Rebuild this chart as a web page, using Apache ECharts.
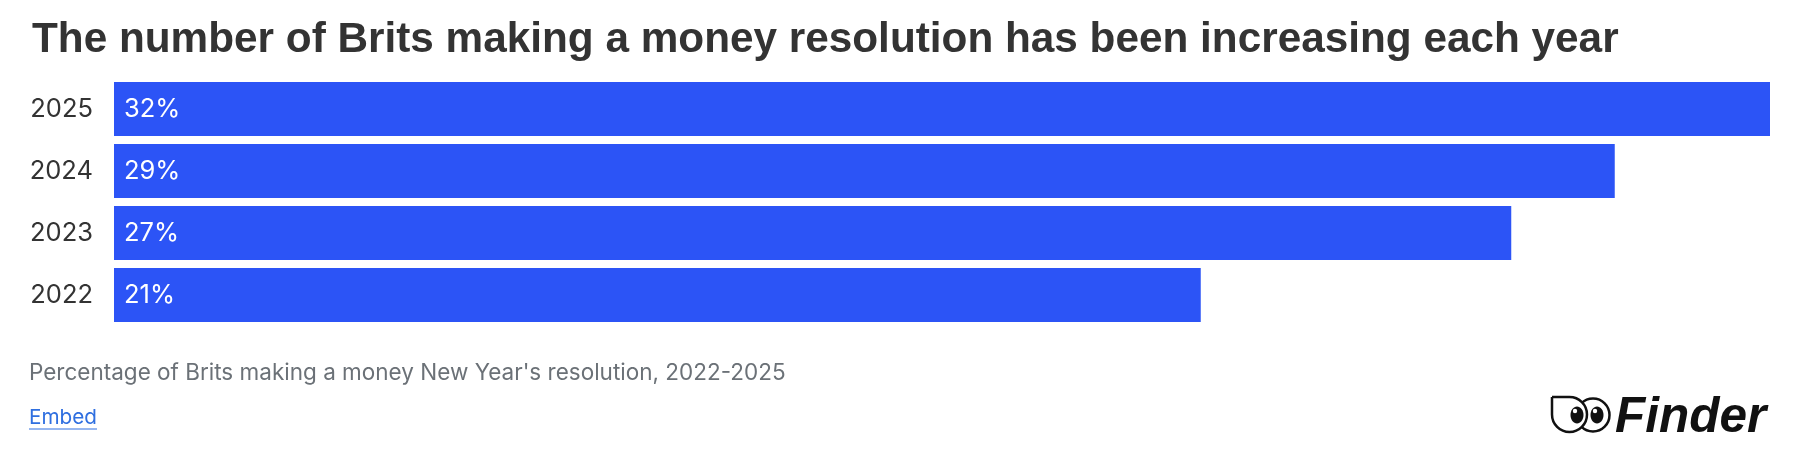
<!DOCTYPE html>
<html>
<head>
<meta charset="utf-8">
<script src="https://cdn.jsdelivr.net/npm/echarts@6/dist/echarts.min.js"></script>
<style>
html,body{margin:0;padding:0;background:#fff;}
#c{width:1814px;height:468px;}
</style>
</head>
<body>
<div id="c"></div>
<script>
const categories = ['2022', '2023', '2024', '2025'];
const values = [21, 27, 29, 32];
const titleText = 'The number of Brits making a money resolution has been increasing each year';
const subtitleText = "Percentage of Brits making a money New Year's resolution, 2022-2025";
const embedText = 'Embed';
const logoText = 'Finder';

const chart = echarts.init(document.getElementById('c'), null, {renderer: 'canvas'});
const FONT = 'Inter, "Noto Sans", sans-serif';
const ix = 1552, iy = 397;
chart.setOption({
  animation: false,
  backgroundColor: '#ffffff',
  title: {
    text: titleText,
    left: 27,
    top: 14,
    textStyle: {fontFamily: '"Liberation Sans", Arial, sans-serif', fontWeight: 'bold', fontSize: 42.3, color: '#333333'}
  },
  grid: {left: 114, right: 44, top: 78, bottom: 142, containLabel: false},
  xAxis: {type: 'value', min: 0, max: 32, show: false},
  yAxis: {
    type: 'category',
    data: categories,
    axisLine: {show: false},
    axisTick: {show: false},
    axisLabel: {fontFamily: FONT, fontSize: 25.5, color: '#333333', margin: 21}
  },
  series: [{
    type: 'bar',
    data: values,
    barWidth: 54,
    itemStyle: {color: '#2c54f6'},
    label: {
      show: true,
      position: 'insideLeft',
      distance: 10,
      formatter: '{c}%',
      fontFamily: FONT,
      fontSize: 25.5,
      color: '#ffffff'
    }
  }],
  graphic: [
    {type: 'text', left: 29, top: 362, style: {text: subtitleText, fontFamily: FONT, fontSize: 22.5, fill: '#6b7177'}},
    {type: 'text', left: 29, top: 407, style: {text: embedText, fontFamily: FONT, fontSize: 20.7, fill: '#2f6fe0'}},
    {type: 'line', shape: {x1: 29, y1: 429, x2: 97, y2: 429}, style: {stroke: '#2f6fe0', lineWidth: 1}},
    {type: 'text', left: 1615, top: 393, style: {text: logoText, fontFamily: '"Liberation Sans", Arial, sans-serif', fontWeight: 'bold', fontStyle: 'italic', fontSize: 49.5, fill: '#111111'}},
    {type: 'circle', shape: {cx: ix + 41, cy: iy + 18, r: 16.5}, style: {fill: '#fff', stroke: '#111', lineWidth: 2.5}},
    {type: 'rect', shape: {x: ix, y: iy, width: 35, height: 35, r: [0, 17.5, 17.5, 17.5]}, style: {fill: '#fff', stroke: '#111', lineWidth: 2.5}},
    {type: 'ellipse', shape: {cx: ix + 25, cy: iy + 18, rx: 6.5, ry: 8.5}, style: {fill: '#111'}},
    {type: 'ellipse', shape: {cx: ix + 45, cy: iy + 18, rx: 6.5, ry: 8.5}, style: {fill: '#111'}},
    {type: 'circle', shape: {cx: ix + 23, cy: iy + 14, r: 2.2}, style: {fill: '#fff'}},
    {type: 'circle', shape: {cx: ix + 43, cy: iy + 14, r: 2.2}, style: {fill: '#fff'}}
  ]
});
</script>
</body>
</html>
